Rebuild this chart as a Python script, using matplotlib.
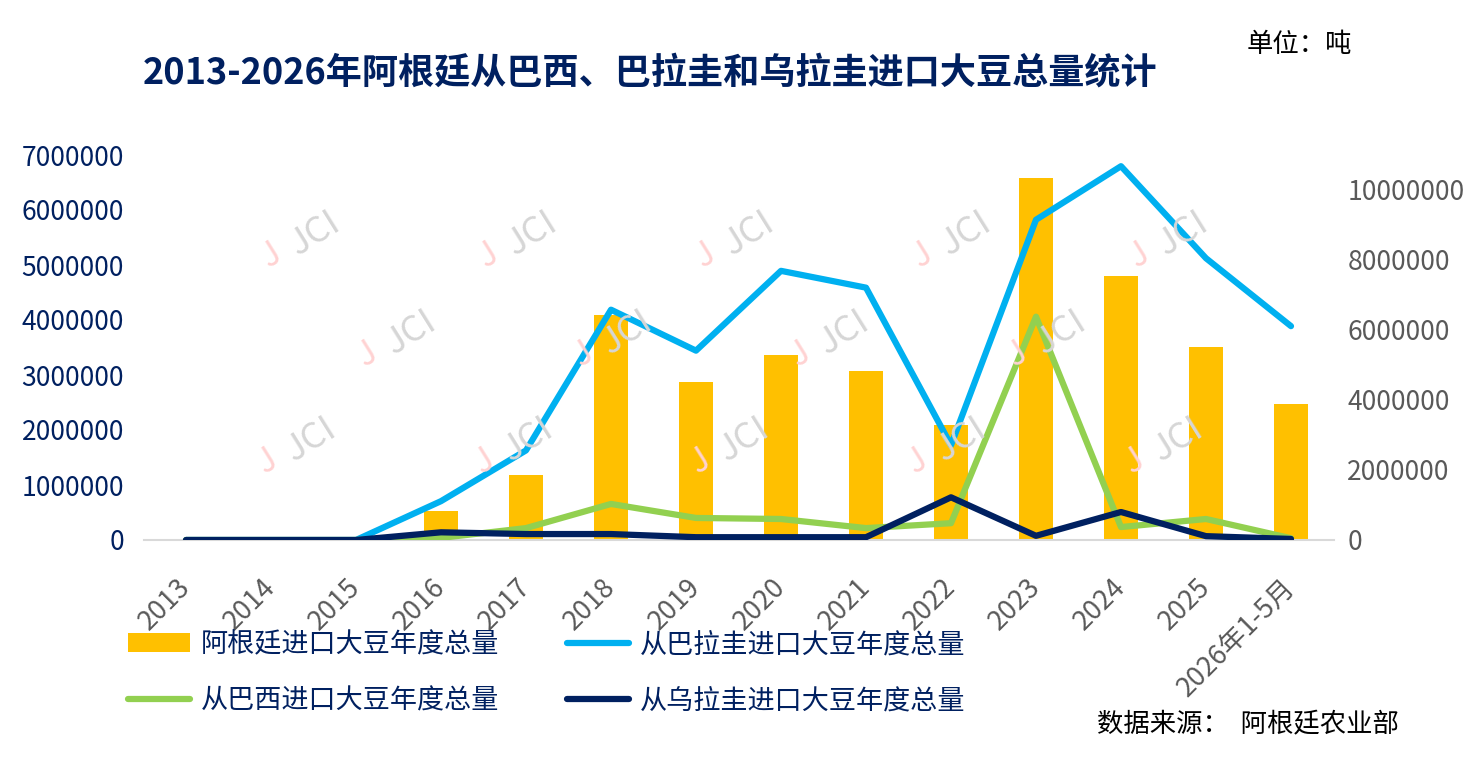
import matplotlib
matplotlib.use("Agg")
import matplotlib.pyplot as plt
import numpy as np

plt.rcParams['font.family'] = ['Noto Sans CJK SC', 'DejaVu Sans']

# data (tonnes)
years = ['2013', '2014', '2015', '2016', '2017', '2018', '2019', '2020',
         '2021', '2022', '2023', '2024', '2025', '2026年1-5月']
total = [0, 0, 0, 530000, 1180000, 4090000, 2870000, 3360000,
         3070000, 2090000, 6580000, 4800000, 3510000, 2470000]
paraguay = [0, 0, 0, 1110000, 2560000, 6580000, 5410000, 7690000,
            7210000, 2710000, 9150000, 10680000, 8050000, 6110000]
brazil = [0, 0, 0, 60000, 340000, 1030000, 630000, 600000,
          340000, 480000, 6380000, 370000, 600000, 50000]
uruguay = [0, 0, 0, 220000, 170000, 170000, 80000, 80000,
           80000, 1220000, 120000, 800000, 110000, 30000]

navy = '#002060'
gray = '#595959'

fig = plt.figure(figsize=(14.76, 7.76), dpi=100)
W, H = 1476, 776
ax = fig.add_axes([143.5 / W, 1 - 540 / H, (1333.5 - 143.5) / W, (540 - 155) / H])
ax2 = ax.twinx()

x = np.arange(len(years))
bars = ax.bar(x, total, width=0.4, color='#FFC000', label='阿根廷进口大豆年度总量', zorder=2)
ax.set_xlim(-0.5, len(years) - 0.5)
ax.set_ylim(0, 7000000)
ax.set_yticks(np.arange(0, 7000001, 1000000))
ax.set_yticklabels([str(v) for v in range(0, 7000001, 1000000)])

lp, = ax2.plot(x, paraguay, color='#00B0F0', lw=4.5, solid_capstyle='round',
               solid_joinstyle='round', label='从巴拉圭进口大豆年度总量')
lb, = ax2.plot(x, brazil, color='#92D050', lw=4.5, solid_capstyle='round',
               solid_joinstyle='round', label='从巴西进口大豆年度总量')
lu, = ax2.plot(x, uruguay, color=navy, lw=4.5, solid_capstyle='round',
               solid_joinstyle='round', label='从乌拉圭进口大豆年度总量')
ax2.set_ylim(0, 11000000)
ax2.set_yticks(np.arange(0, 10000001, 2000000))
ax2.set_yticklabels([str(v) for v in range(0, 10000001, 2000000)])

for a in (ax, ax2):
    for s in a.spines.values():
        s.set_visible(False)
    a.tick_params(length=0)
ax.spines['bottom'].set_visible(True)
ax.spines['bottom'].set_color('#d9d9d9')
ax.spines['bottom'].set_linewidth(1.5)

ax.tick_params(axis='y', labelsize=19, labelcolor=navy, pad=14)
ax2.tick_params(axis='y', labelsize=19, labelcolor=gray, pad=10)
ax.set_xticks(x)
ax.set_xticklabels(years, rotation=45, ha='right', va='center',
                   rotation_mode='anchor', fontsize=19.5, color=gray)
ax.tick_params(axis='x', pad=31)

# faint watermarks
marks = [(301, 241), (518, 241), (735, 241), (952, 241), (1169, 241),
         (397, 340), (613, 340), (830, 340), (1047, 340),
         (297, 447), (514, 447), (730, 447), (947, 447), (1164, 447)]
for mx, my in marks:
    fig.text((mx + 14) / W, 1 - (my - 8) / H, 'JCI', rotation=32, fontsize=26,
             color='#d6d6d6', ha='center', va='center', zorder=0)
    fig.text((mx - 30) / W, 1 - (my + 14) / H, 'J', rotation=32, fontsize=24,
             color='#ffd2d2', ha='center', va='center', zorder=0)

fig.text(143 / W, 1 - 73 / H, '2013-2026年阿根廷从巴西、巴拉圭和乌拉圭进口大豆总量统计',
         fontsize=26, fontweight='bold', color=navy, ha='left', va='center')
fig.text(1247 / W, 1 - 45 / H, '单位：吨', fontsize=19, color='#000000',
         ha='left', va='center')
fig.text(1097 / W, 1 - 725 / H, '数据来源：  阿根廷农业部', fontsize=19,
         color='#000000', ha='left', va='center')

leg = fig.legend(handles=[bars, lb, lp, lu], ncol=2, frameon=False,
                 loc='upper left', bbox_to_anchor=(128 / W, 1 - 631 / H),
                 borderpad=0, borderaxespad=0, fontsize=19.5,
                 handlelength=2.3, handleheight=0.7, handletextpad=0.4,
                 columnspacing=2.5, labelspacing=1.1)
for t in leg.get_texts():
    t.set_color(navy)

fig.savefig('out.png', dpi=100)
